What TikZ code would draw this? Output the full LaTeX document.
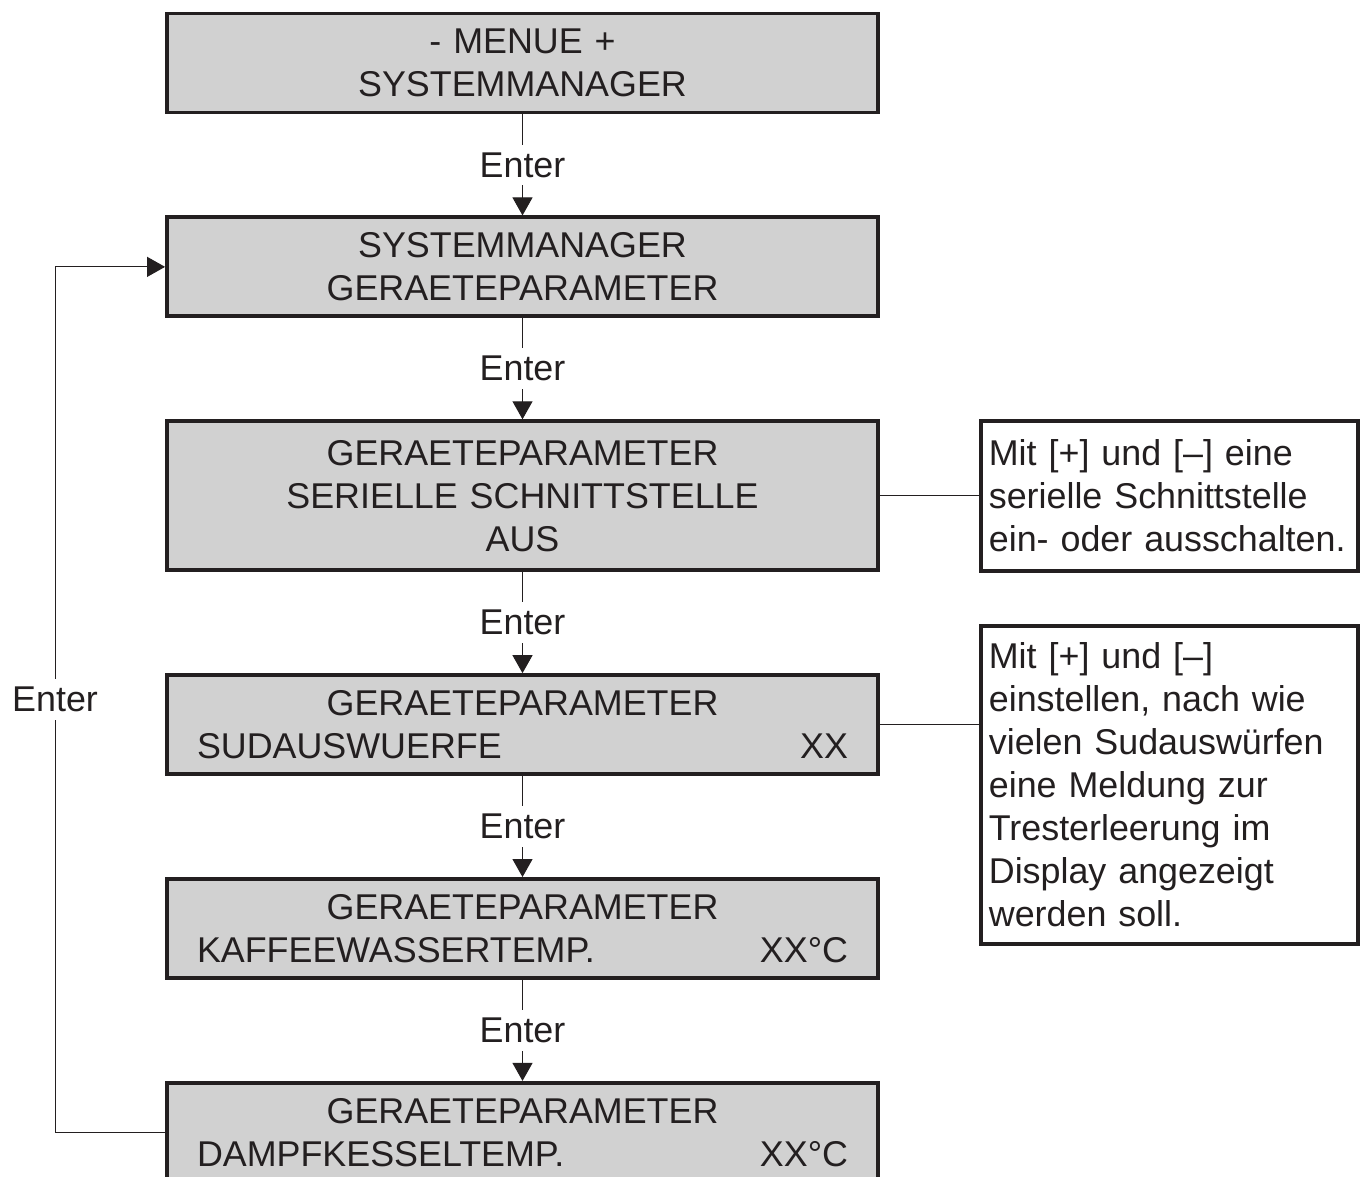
\documentclass[tikz,border=0pt]{standalone}
\usepackage{fontspec}
\setmainfont{Liberation Sans}
\usetikzlibrary{positioning,arrows.meta}
\definecolor{panelgray}{HTML}{D1D1D1}
\definecolor{ink}{HTML}{231F20}
\tikzset{
>={Triangle[length=0.36cm,width=0.4cm]},
node distance=2.02cm,
every node/.style={font=\fontsize{20.4}{24.5}\selectfont, text=ink},
panel/.style={draw=ink, line width=2.2pt, fill=panelgray, minimum width=14.22cm, minimum height=1.98cm, text width=13.02cm, align=center, inner sep=0pt},
hint/.style={draw=ink, line width=2.2pt, fill=white, minimum width=7.54cm, text width=7.22cm, align=left, inner xsep=0.16cm, inner ysep=0pt},
link/.style={draw=ink, line width=0.6pt},
key/.style={fill=white, inner sep=4.5pt},
}

\begin{document}
\begin{tikzpicture}
    \useasboundingbox (0,0) rectangle (27.26,-23.52);

    %menu chain
    \node[panel] (b1) at (10.45,-1.26) {- MENUE +\\SYSTEMMANAGER};
    \node[panel,below=of b1] (b2) {SYSTEMMANAGER\\GERAETEPARAMETER};
    \node[panel,below=of b2,minimum height=2.98cm] (b3) {GERAETEPARAMETER\\SERIELLE SCHNITTSTELLE\\AUS};
    \node[panel,below=of b3] (b4) {GERAETEPARAMETER\\SUDAUSWUERFE\hfill XX};
    \node[panel,below=of b4] (b5) {GERAETEPARAMETER\\KAFFEEWASSERTEMP.\hfill XX°C};
    \node[panel,below=of b5] (b6) {GERAETEPARAMETER\\DAMPFKESSELTEMP.\hfill XX°C};

    %notes
    \node[hint,right=1.98cm of b3,minimum height=3.0cm] (hA) {Mit [+] und [–] eine\\serielle Schnittstelle\\ein- oder ausschalten.};
    \node[hint,below=1.02cm of hA,minimum height=6.36cm] (hB) {Mit [+] und [–]\\einstellen, nach wie\\vielen Sudauswürfen\\eine Meldung zur\\Tresterleerung im\\Display angezeigt\\werden soll.};

    \draw[link,->] (b1) -- node[key] {Enter} (b2);
    \draw[link,->] (b2) -- node[key] {Enter} (b3);
    \draw[link,->] (b3) -- node[key] {Enter} (b4);
    \draw[link,->] (b4) -- node[key] {Enter} (b5);
    \draw[link,->] (b5) -- node[key] {Enter} (b6);
    \draw[link,->] (b6.west) -- ++(-2.2,0) |- node[key,pos=0.25] {Enter} (b2.west);

    \draw[link] (b3.east) -- (b3.east -| hA.west);
    \draw[link] (b4.east) -- (b4.east -| hB.west);

\end{tikzpicture}
\end{document}
